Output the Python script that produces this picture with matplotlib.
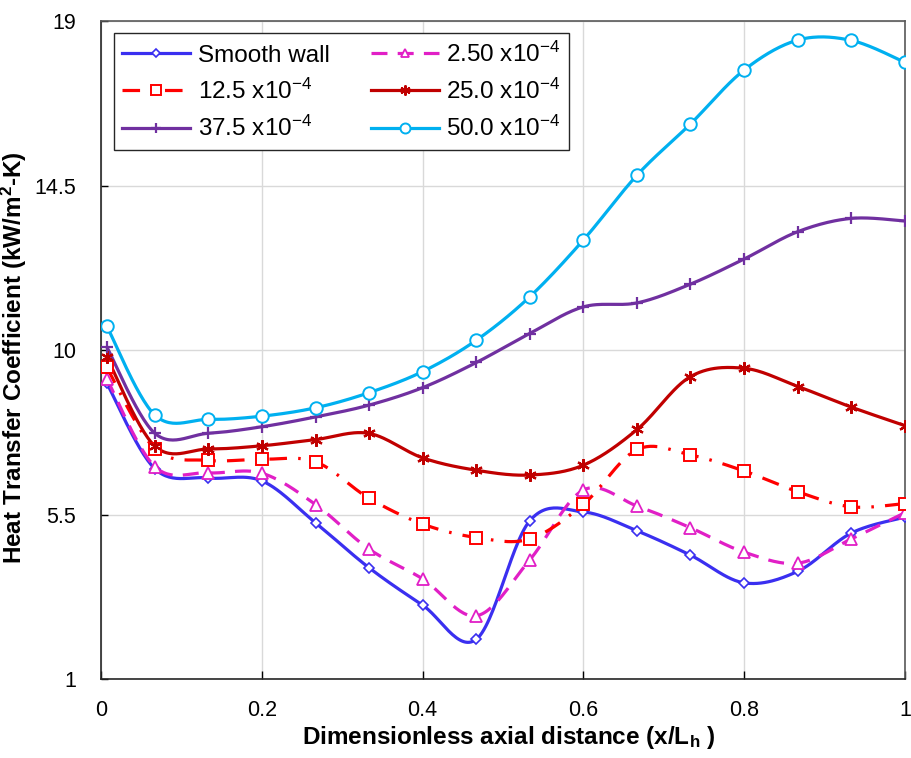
import numpy as np
import matplotlib
matplotlib.use('Agg')
import matplotlib.pyplot as plt

# fonts
plt.rcParams['font.family'] = ['Liberation Sans', 'DejaVu Sans']
plt.rcParams['mathtext.fontset'] = 'custom'
plt.rcParams['mathtext.rm'] = 'Liberation Sans'
plt.rcParams['mathtext.it'] = 'Liberation Sans:italic'
plt.rcParams['mathtext.bf'] = 'Liberation Sans:bold'

# data
x = [0.007, 0.067, 0.133, 0.2, 0.267, 0.333, 0.4, 0.467, 0.533, 0.6, 0.667, 0.733, 0.8, 0.867, 0.933, 1.0]
smooth_wall = [9.10, 6.75, 6.50, 6.42, 5.27, 4.05, 3.02, 2.09, 5.32, 5.57, 5.05, 4.39, 3.63, 3.95, 4.99, 5.43]
r_2_50 = [9.22, 6.81, 6.64, 6.63, 5.77, 4.56, 3.74, 2.73, 4.25, 6.17, 5.73, 5.14, 4.47, 4.17, 4.83, 5.55]
r_12_5 = [9.53, 7.30, 6.98, 7.01, 6.94, 5.95, 5.24, 4.87, 4.83, 5.78, 7.28, 7.13, 6.69, 6.12, 5.71, 5.80]
r_25_0 = [9.81, 7.37, 7.29, 7.38, 7.55, 7.72, 7.05, 6.71, 6.58, 6.85, 7.83, 9.27, 9.50, 9.00, 8.44, 7.93]
r_37_5 = [10.09, 7.72, 7.72, 7.90, 8.17, 8.49, 8.97, 9.66, 10.45, 11.18, 11.29, 11.80, 12.49, 13.24, 13.60, 13.53]
r_50_0 = [10.66, 8.22, 8.10, 8.19, 8.42, 8.83, 9.41, 10.27, 11.45, 13.01, 14.79, 16.18, 17.66, 18.48, 18.47, 17.87]

labels = ['Smooth wall', '2.50 x10$^{-4}$', '12.5 x10$^{-4}$',
          '25.0 x10$^{-4}$', '37.5 x10$^{-4}$', '50.0 x10$^{-4}$']
yticks = [1, 5.5, 10, 14.5, 19]
xticks = [0, 0.2, 0.4, 0.6, 0.8, 1]


def smooth_line(xs, ys, n=30):
    # excel-like smoothed line (cardinal bezier through the points)
    p = np.column_stack([xs, ys]).astype(float)
    pe = np.vstack([p[0], p, p[-1]])
    t = np.linspace(0, 1, n)[:, None]
    out = []
    for i in range(1, len(pe) - 2):
        p0, p1, p2, p3 = pe[i - 1], pe[i], pe[i + 1], pe[i + 2]
        c1 = p1 + (p2 - p0) / 6
        c2 = p2 - (p3 - p1) / 6
        seg = ((1 - t) ** 3 * p1 + 3 * (1 - t) ** 2 * t * c1
               + 3 * (1 - t) * t ** 2 * c2 + t ** 3 * p2)
        out.append(seg if i == 1 else seg[1:])
    out = np.vstack(out)
    return out[:, 0], out[:, 1]


styles = [
    dict(color='#3a2ff0', ls='-', marker='D', ms=5.5, mew=1.2),
    dict(color='#e11fc6', ls=(0, (5.0, 3.2)), marker='^', ms=8, mew=1.3),
    dict(color='#ff0000', ls=(0, (5.5, 3.5, 0.8, 3.5)), marker='s', ms=9, mew=1.4),
    dict(color='#c00000', ls='-', marker=(6, 2, 0), ms=9, mew=1.6),
    dict(color='#7030a0', ls='-', marker='+', ms=9, mew=1.6),
    dict(color='#00b0f0', ls='-', marker='o', ms=9, mew=1.4),
]
series = [smooth_wall, r_2_50, r_12_5, r_25_0, r_37_5, r_50_0]

fig = plt.figure(figsize=(9.11, 7.58), dpi=100)
ax = fig.add_axes([0.1109, 0.1042, 0.8825, 0.8681])

handles = []
for ys, st, lab in zip(series, styles, labels):
    sx, sy = smooth_line(x, ys)
    ax.plot(sx, sy, color=st['color'], ls=st['ls'], lw=2.3, zorder=3,
            solid_capstyle='butt', dash_capstyle='butt')
    ax.plot(x, ys, ls='none', marker=st['marker'], ms=st['ms'],
            mec=st['color'], mfc='white', mew=st['mew'], zorder=4)
    h, = ax.plot([], [], color=st['color'], ls=st['ls'], lw=2.3,
                 marker=st['marker'], ms=st['ms'] * 0.8, mec=st['color'],
                 mfc='white', mew=st['mew'], label=lab)
    handles.append(h)

ax.set_xlim(0, 1)
ax.set_ylim(1, 19)
ax.set_xticks(xticks)
ax.set_xticklabels(['0', '0.2', '0.4', '0.6', '0.8', '1'])
ax.set_yticks(yticks)
ax.set_yticklabels(['1', '5.5', '10', '14.5', '19'])
ax.tick_params(axis='x', direction='in', length=6, width=1, pad=15, labelsize=15.5)
ax.tick_params(axis='y', direction='in', length=5, width=1, pad=18, labelsize=15.5)
ax.grid(True, color='#d9d9d9', lw=1)
ax.set_axisbelow(True)

for side in ['left', 'bottom']:
    ax.spines[side].set_color('#262626')
    ax.spines[side].set_linewidth(1.2)
for side in ['top', 'right']:
    ax.spines[side].set_color('#595959')
    ax.spines[side].set_linewidth(1.2)

ax.set_xlabel('Dimensionless axial distance (x/L$_\\mathbf{h}$ )', fontsize=17.5,
              fontweight='bold')
ax.xaxis.set_label_coords(0.507, -0.069)
ax.set_ylabel('Heat Transfer Coefficient (kW/m$^\\mathbf{2}$-K)', fontsize=17.5,
              fontweight='bold')
ax.yaxis.set_label_coords(-0.089, 0.488)

# row-wise order in a 2-column legend
order = [0, 2, 4, 1, 3, 5]
leg = ax.legend([handles[i] for i in order], [labels[i] for i in order],
                ncol=2, loc='upper left', bbox_to_anchor=(0.016, 0.982),
                borderaxespad=0, fontsize=17.5, handlelength=2.8,
                handletextpad=0.3, columnspacing=1.7, labelspacing=0.5,
                fancybox=False, framealpha=1, edgecolor='#262626',
                borderpad=0.35)
leg.get_frame().set_linewidth(1.0)

fig.savefig('out.png', dpi=100)
